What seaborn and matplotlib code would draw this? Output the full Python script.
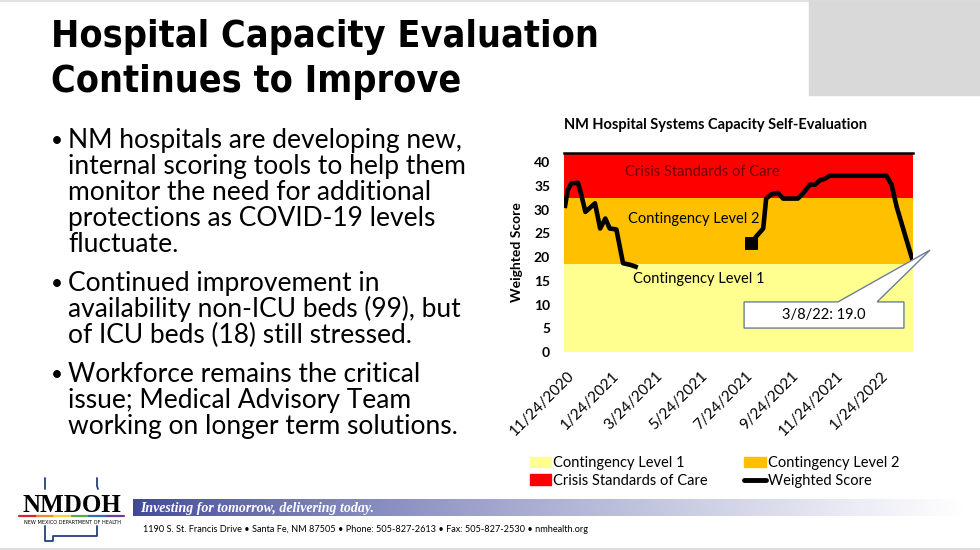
import numpy as np
import pandas as pd
import matplotlib.pyplot as plt
from matplotlib.patches import Patch, Rectangle, Polygon
from matplotlib.lines import Line2D
import seaborn as sns

W, H = 980, 550

slide_title = ['Hospital Capacity Evaluation', 'Continues to Improve']
bullets = [
    ['NM hospitals are developing new,', 'internal scoring tools to help them',
     'monitor the need for additional', 'protections as COVID-19 levels', 'fluctuate.'],
    ['Continued improvement in', 'availability non-ICU beds (99), but',
     'of ICU beds (18) still stressed.'],
    ['Workforce remains the critical', 'issue; Medical Advisory Team',
     'working on longer term solutions.'],
]
chart_title = 'NM Hospital Systems Capacity Self-Evaluation'
y_label = 'Weighted Score'
line_name = 'Weighted Score'

# weighted score (two reporting periods)
wave1_dates = ['2020-11-21', '2020-11-25', '2020-11-30', '2020-12-09', '2020-12-13',
               '2020-12-19', '2021-01-01', '2021-01-08', '2021-01-15', '2021-01-21',
               '2021-01-30', '2021-02-08', '2021-02-19', '2021-02-28']
wave1_scores = [30.3, 34.1, 35.5, 35.6, 33.4, 29.5, 31.3, 26.0, 28.1, 26.0,
                25.8, 18.7, 18.3, 17.8]
wave2_dates = ['2021-08-01', '2021-08-08', '2021-08-17', '2021-08-21', '2021-08-28',
               '2021-09-06', '2021-09-13', '2021-10-03', '2021-10-10', '2021-10-19',
               '2021-10-26', '2021-11-02', '2021-11-08', '2021-11-15', '2022-01-31',
               '2022-02-07', '2022-02-14', '2022-03-08']
wave2_scores = [22.9, 24.4, 26.0, 32.3, 33.2, 33.5, 32.3, 32.3, 33.4, 35.2,
                35.2, 36.2, 36.4, 37.1, 37.1, 35.2, 30.5, 19.0]

band_names = ['Contingency Level 1', 'Contingency Level 2', 'Crisis Standards of Care']
band_lows = [0, 18.5, 32.5]
band_highs = [18.5, 32.5, 42]
band_colors = ['#ffff8f', '#ffc000', '#ff0000']
band_text_colors = ['black', 'black', '#700000']
band_text_at = [('2021-05-21', 15.4), ('2021-05-15', 28.0), ('2021-05-26', 37.9)]

tick_dates = ['2020-11-24', '2021-01-24', '2021-03-24', '2021-05-24',
              '2021-07-24', '2021-09-24', '2021-11-24', '2022-01-24']
x_range = ['2020-11-20', '2022-03-08']

tagline = 'Investing for tomorrow, delivering today.'
address = ('1190 S. St. Francis Drive \u2022 Santa Fe, NM 87505 \u2022 Phone: 505-827-2613 '
           '\u2022 Fax: 505-827-2530 \u2022 nmhealth.org')

sns.set_theme(style='white')
plt.rcParams['font.family'] = ['Lato', 'DejaVu Sans']
plt.rcParams['text.color'] = 'black'
plt.rcParams['axes.labelcolor'] = 'black'
plt.rcParams['xtick.color'] = 'black'
plt.rcParams['ytick.color'] = 'black'

df = pd.concat([
    pd.DataFrame({'date': pd.to_datetime(wave1_dates), 'score': wave1_scores, 'wave': 1}),
    pd.DataFrame({'date': pd.to_datetime(wave2_dates), 'score': wave2_scores, 'wave': 2}),
])


def fx(x):
    return x / W


def fy(y):
    return 1 - y / H


fig = plt.figure(figsize=(9.8, 5.5), dpi=100)

# slide furniture
fig.patches.append(Rectangle((fx(809), fy(95)), 171 / W, 95 / H, transform=fig.transFigure,
                             color='#d9d9d9', zorder=0))
fig.add_artist(Line2D([0, 1], [fy(1), fy(1)], color='#dcdcdc', lw=1.2))
fig.add_artist(Line2D([0, 1], [fy(548.5), fy(548.5)], color='#dcdcdc', lw=1.5))

fig.text(fx(51), fy(47), slide_title[0], fontsize=27, fontweight='bold', family=['DejaVu Sans'],
         fontstretch='condensed', va='baseline')
fig.text(fx(51), fy(92), slide_title[1], fontsize=27, fontweight='bold', family=['DejaVu Sans'],
         fontstretch='condensed', va='baseline')

y = 148
for para in bullets:
    fig.text(fx(51), fy(y - 1), '\u2022', fontsize=15, va='baseline')
    for line in para:
        fig.text(fx(68), fy(y), line, fontsize=19, va='baseline')
        y += 26
    y += 13

# chart
ax = fig.add_axes([fx(564), fy(352), 349 / W, (352 - 152.5) / H])
for lo, hi, c in zip(band_lows, band_highs, band_colors):
    ax.axhspan(lo, hi, color=c, lw=0, zorder=0)
for name, c, (d, v) in zip(band_names, band_text_colors, band_text_at):
    ax.text(pd.Timestamp(d), v, name, color=c, fontsize=10.5, ha='center', va='center', zorder=1)

sns.lineplot(data=df, x='date', y='score', units='wave', estimator=None, color='black',
             lw=3.3, ax=ax, zorder=3, solid_joinstyle='round', solid_capstyle='butt')
start2 = df[df['wave'] == 2].iloc[[0]]
sns.scatterplot(data=start2, x='date', y='score', marker='s', s=70, color='black',
                edgecolor='black', ax=ax, zorder=4)

ax.set_xlim(pd.Timestamp(x_range[0]), pd.Timestamp(x_range[1]))
ax.set_ylim(band_lows[0], band_highs[-1])
ax.set_yticks(range(0, 41, 5))
ax.set_yticklabels([str(v) for v in range(0, 41, 5)], fontweight='bold', fontsize=10)
ticks = pd.to_datetime(tick_dates)
ax.set_xticks(ticks)
ax.set_xticklabels([f'{t.month}/{t.day}/{t.year}' for t in ticks], rotation=45, ha='right',
                   va='top', rotation_mode='anchor', fontsize=11)
ax.tick_params(axis='both', length=0)
ax.tick_params(axis='x', pad=12)
ax.tick_params(axis='y', pad=10)
ax.set_xlabel('')
ax.set_ylabel(y_label, fontweight='bold', fontsize=10, labelpad=8)
for side in ['left', 'right', 'bottom']:
    ax.spines[side].set_visible(False)
ax.spines['top'].set_color('black')
ax.spines['top'].set_linewidth(1.8)
ax.set_title(chart_title, fontweight='bold', fontsize=10.5, pad=17, x=0.435)

# data callout for the latest value
last = df.iloc[-1]
callout = [(0.516, 0.120), (0.516, 0.251), (0.785, 0.251), (1.049, 0.511), (0.897, 0.251),
           (0.974, 0.251), (0.974, 0.120)]
ax.add_patch(Polygon(callout, closed=True, transform=ax.transAxes, facecolor='white',
                     edgecolor='#6b7f99', lw=1.0, clip_on=False, zorder=5))
ax.text(0.745, 0.187, f"{last['date'].month}/{last['date'].day}/{last['date']:%y}: {last['score']:.1f}",
        transform=ax.transAxes, ha='center', va='center', fontsize=10.5, zorder=6)

handles = [Patch(color=band_colors[0]), Patch(color=band_colors[2]),
           Patch(color=band_colors[1]), Line2D([], [], color='black', lw=3.5)]
labels = [band_names[0], band_names[2], band_names[1], line_name]
fig.legend(handles, labels, ncol=2, loc='center left', bbox_to_anchor=(fx(530), fy(472)),
           frameon=False, fontsize=10.5, handlelength=1.45, handleheight=0.75, handletextpad=0.15,
           columnspacing=2.5, labelspacing=0.25, borderaxespad=0, borderpad=0)

# footer: gradient banner
bar = fig.add_axes([fx(133), fy(516), (962 - 133) / W, 17 / H])
t = np.linspace(0, 1, 400) ** 0.8
left = np.array([0.25, 0.28, 0.60])
grad = left[None, :] * (1 - t[:, None]) + np.ones(3)[None, :] * t[:, None]
bar.imshow(grad[None, :, :], aspect='auto', extent=[0, 1, 0, 1])
bar.axis('off')
fig.text(fx(140), fy(512), tagline, color='white', fontsize=10, fontweight='bold',
         fontstyle='italic', family=['Liberation Serif', 'DejaVu Serif'], va='baseline')
fig.text(fx(143), fy(532), address, fontsize=6.6, va='baseline')

# footer: logo
fig.text(fx(72), fy(512), 'NMDOH', fontsize=18, fontweight='bold', family=['Liberation Serif'],
         ha='center', va='baseline')
rainbow = ['#d7262b', '#f08a24', '#f4d23a', '#5aaa46', '#2f6db5', '#6f3d98']
for i, c in enumerate(rainbow):
    x0 = 19 + i * 105 / len(rainbow)
    fig.add_artist(Line2D([fx(x0), fx(x0 + 105 / len(rainbow))], [fy(515.5), fy(515.5)],
                          color=c, lw=1.6))
fig.text(fx(72), fy(522), 'NEW MEXICO DEPARTMENT OF HEALTH', fontsize=3.6, ha='center',
         va='center', family=['DejaVu Sans'])
nm_color = '#25407f'
for xs, ys in [([45, 45], [478, 489]), ([97, 97, 98], [478, 486, 489]),
               ([45, 45, 53, 53, 97, 97], [526, 541, 541, 536, 536, 526])]:
    fig.add_artist(Line2D([fx(v) for v in xs], [fy(v) for v in ys], color=nm_color, lw=1.3))

fig.savefig('out.png', dpi=100)
